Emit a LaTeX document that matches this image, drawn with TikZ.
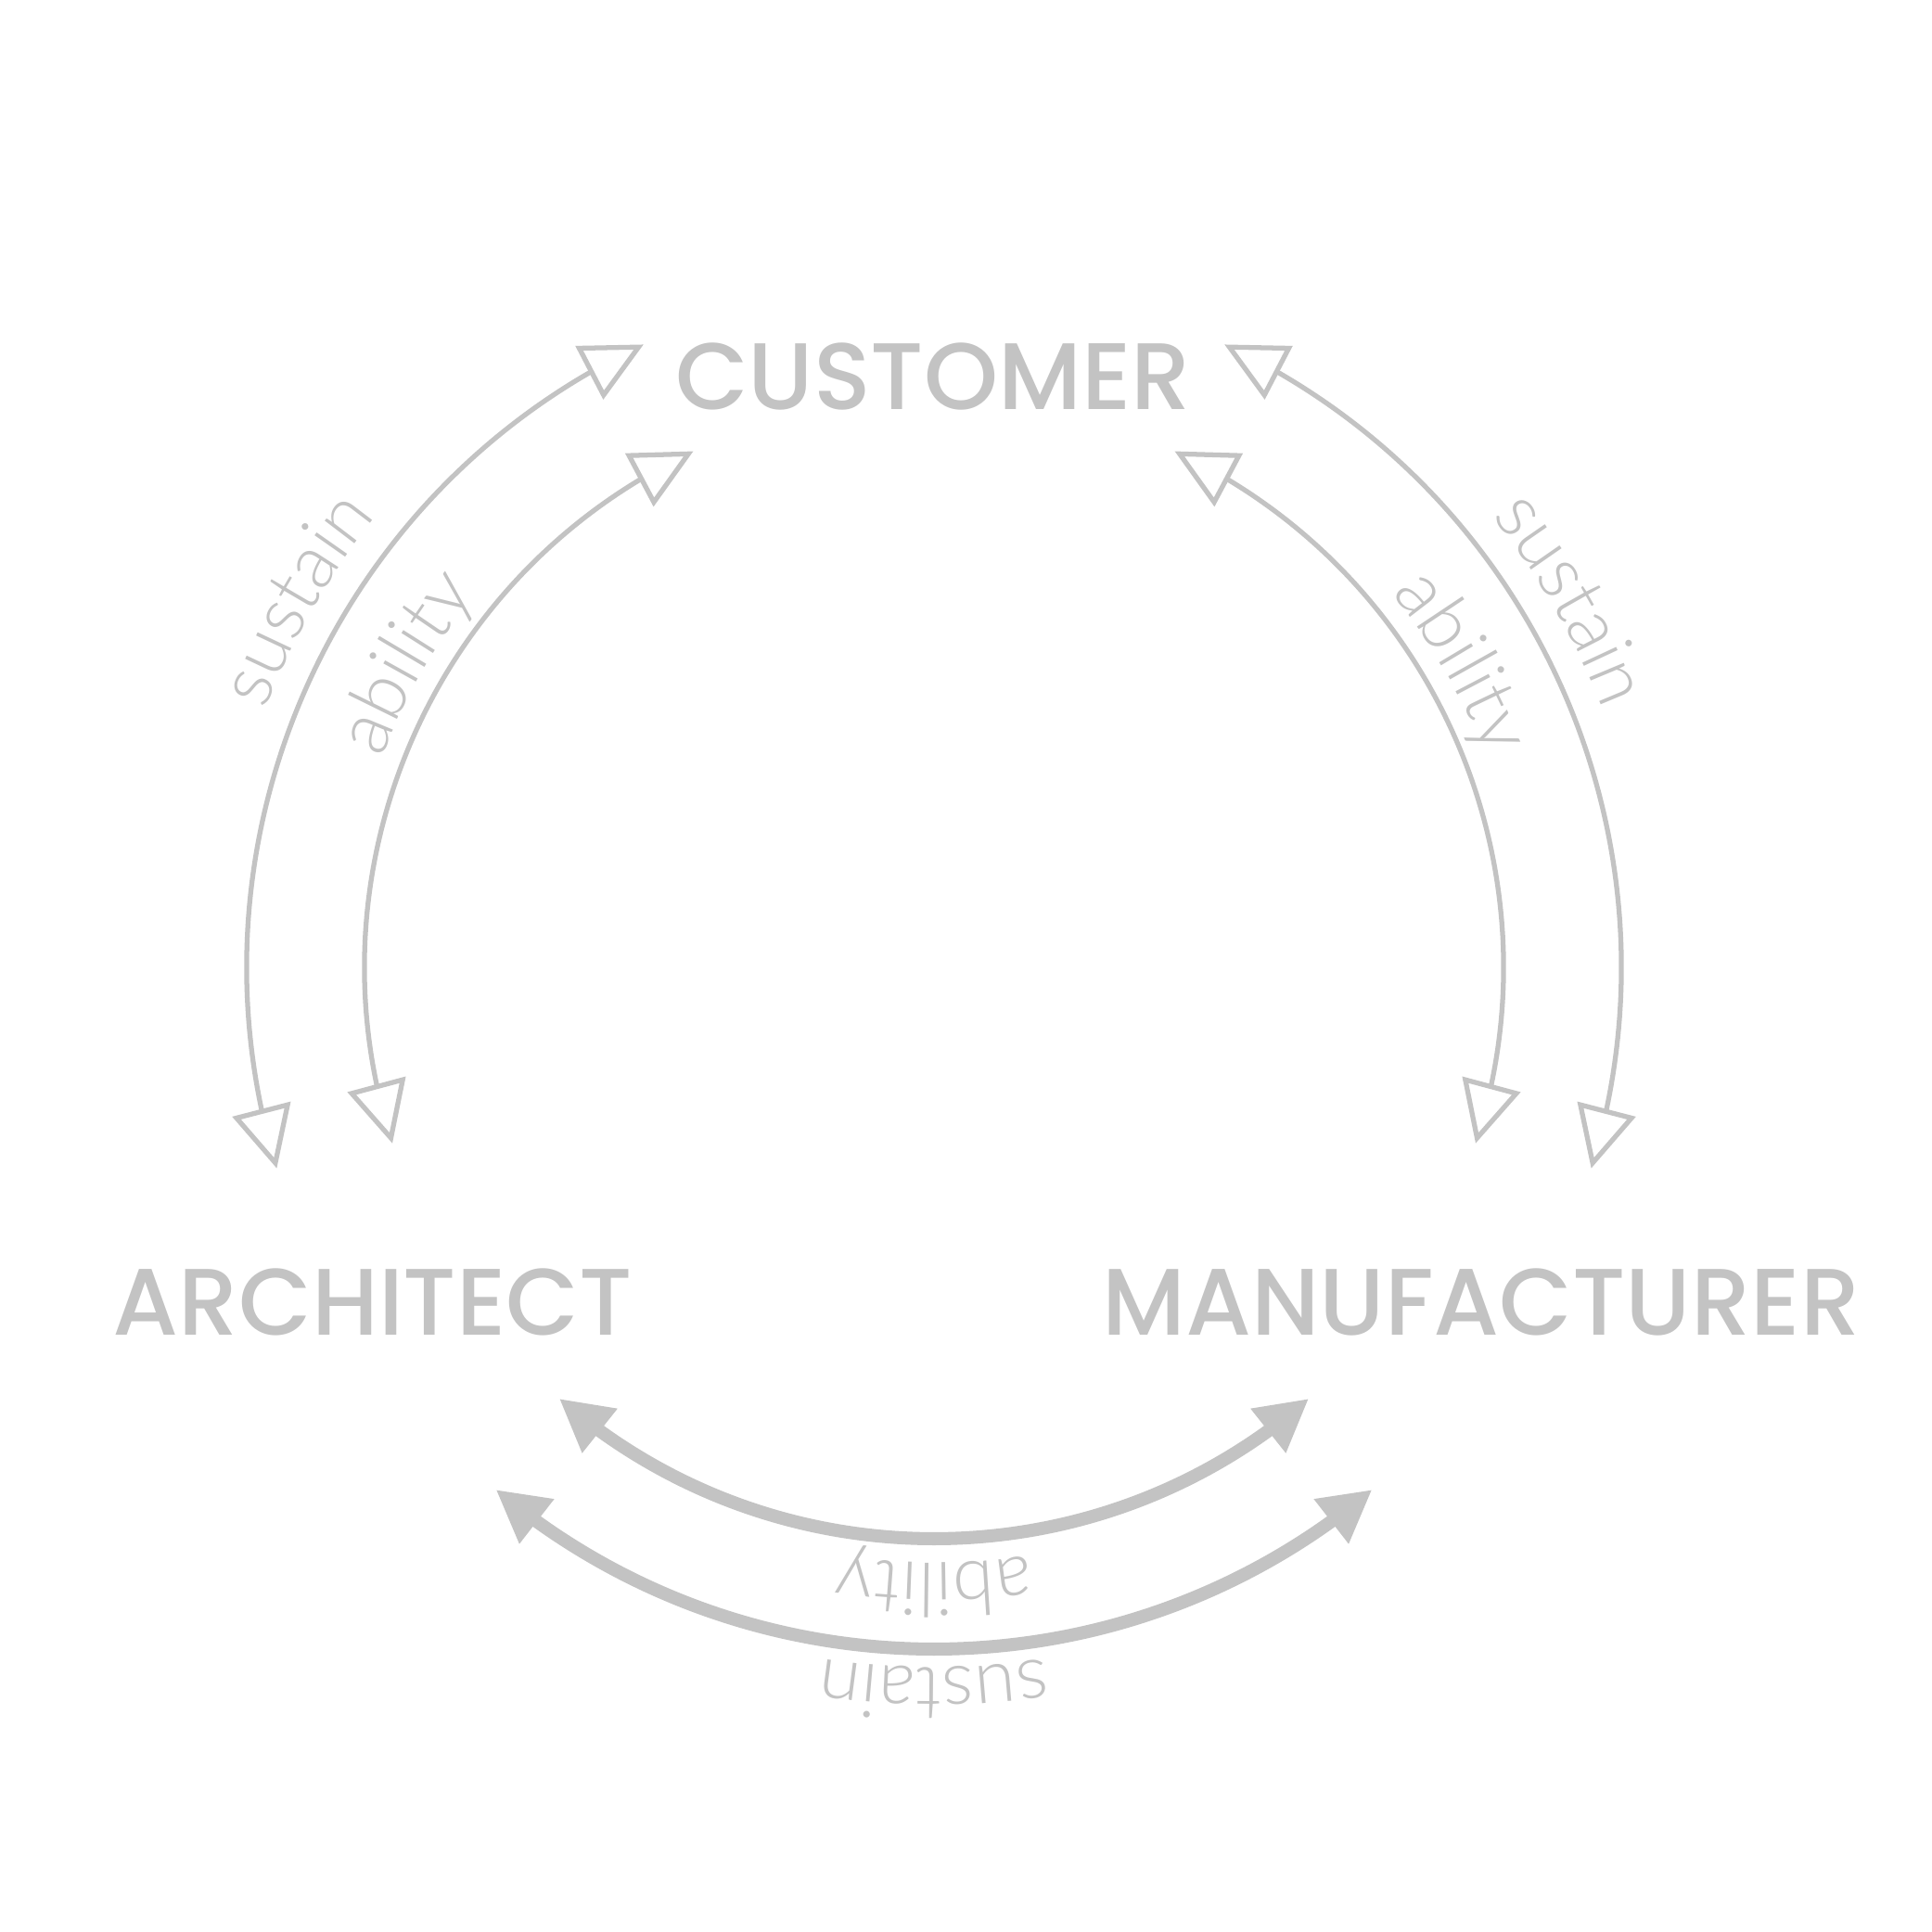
\documentclass[tikz,border=0pt]{standalone}
\usepackage{fontspec}
\setmainfont{Poppins}
\newfontfamily\headfont{Poppins Medium}
\newfontfamily\thinfont{Lato Light}
\usepackage{tikz}
\usetikzlibrary{arrows.meta,bending,decorations.text}
\definecolor{ringgray}{RGB}{195,195,195}
\newcommand\wordfont{\thinfont\fontsize{23}{25}\selectfont}

\begin{document}
\begin{tikzpicture}[
  role/.style={font=\headfont\fontsize{29}{31}\selectfont,
    text=ringgray, inner sep=0pt},
  ring/.style={color=ringgray, line width=1.5pt,
    {Triangle[open,length=0.66cm,width=0.64cm]}-{Triangle[open,length=0.66cm,width=0.64cm]}},
  band/.style={color=ringgray, line width=4pt,
    {Triangle[length=0.56cm,width=0.57cm]}-{Triangle[length=0.56cm,width=0.57cm]}},
  word/.style={decorate, decoration={text along path,
    text align=center, text color=ringgray}}
]
\useasboundingbox (0,0) rectangle (20.83,20.83);
\coordinate (c) at (10.07,10.40);

% Roles
\node[role] (customer) at (10.06,16.77) {CUSTOMER};
\node[role] (architect) at (4.02,6.79) {ARCHITECT};
\node[role] (maker) at (15.97,6.79) {MANUFACTURER};

% Customer -- architect
\draw[ring] ([shift={(197:7.41)}]c) arc[start angle=197, end angle=115, radius=7.41];
\draw[ring] ([shift={(198:6.14)}]c) arc[start angle=198, end angle=115, radius=6.14];
\path[word, decoration={text={|\wordfont|sustain}}]
  ([shift={(175:7.73)}]c) arc[start angle=175, end angle=125, radius=7.73];
\path[word, decoration={text={|\wordfont|ability}}]
  ([shift={(175:6.37)}]c) arc[start angle=175, end angle=125, radius=6.37];

% Customer -- manufacturer
\draw[ring] ([shift={(65:7.41)}]c) arc[start angle=65, end angle=-17, radius=7.41];
\draw[ring] ([shift={(65:6.14)}]c) arc[start angle=65, end angle=-18, radius=6.14];
\path[word, decoration={text={|\wordfont|sustain}}]
  ([shift={(55:7.73)}]c) arc[start angle=55, end angle=5, radius=7.73];
\path[word, decoration={text={|\wordfont|ability}}]
  ([shift={(55:6.37)}]c) arc[start angle=55, end angle=5, radius=6.37];

% Architect -- manufacturer
\draw[band] ([shift={(229:6.16)}]c) arc[start angle=229, end angle=311, radius=6.16];
\draw[band] ([shift={(230:7.35)}]c) arc[start angle=230, end angle=310, radius=7.35];
\path[word, decoration={text={|\wordfont|ability}}]
  ([shift={(300:6.42)}]c) arc[start angle=300, end angle=240, radius=6.42];
\path[word, decoration={text={|\wordfont|sustain}}]
  ([shift={(300:7.55)}]c) arc[start angle=300, end angle=240, radius=7.55];
\end{tikzpicture}
\end{document}
